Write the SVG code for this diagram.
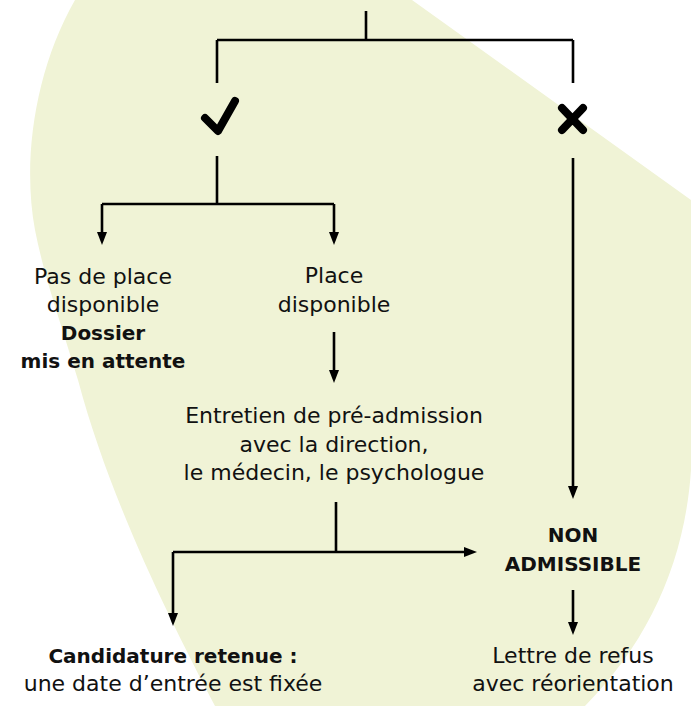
<svg xmlns="http://www.w3.org/2000/svg" width="691" height="706" viewBox="0 0 691 706">
<defs>
<style>
.ln{fill:none;stroke:#000;stroke-width:2.6}
.sym{fill:none;stroke:#000;stroke-width:8;stroke-linecap:round;stroke-linejoin:round}
.t{font-family:"DejaVu Sans","Noto Sans",sans-serif;font-size:22px;fill:#111;text-anchor:middle}
.b{font-weight:bold;font-size:20px}
</style>
<marker id="ah" markerUnits="userSpaceOnUse" markerWidth="14" markerHeight="12" viewBox="0 -6 14 12" refX="1" refY="0" orient="auto">
<path d="M0,-5 L13,0 L0,5 z" fill="#000"/>
</marker>
</defs>
<path id="blob" d="M75,0 L412,0 L691,200 L691,470 C685,560 650,640 585,706 L215,706 C170,620 110,500 78,380 C60,320 45,280 35,230 C22,160 35,70 75,0 Z" fill="#f0f3d6"/>
<g id="connectors">
<path class="ln" d="M366,11 V40 M217,40 H573 M217,40 V83 M573,40 V83"/>
<path class="ln" d="M217,156 V204 M102,204 H334"/>
<path class="ln" d="M102,204 V233" marker-end="url(#ah)"/>
<path class="ln" d="M334,204 V233" marker-end="url(#ah)"/>
<path class="ln" d="M573,158 V487" marker-end="url(#ah)"/>
<path class="ln" d="M334,332 V371" marker-end="url(#ah)"/>
<path class="ln" d="M336,502 V552 M173,552 H465" marker-end="url(#ah)"/>
<path class="ln" d="M173,552 V614" marker-end="url(#ah)"/>
<path class="ln" d="M573,590 V623" marker-end="url(#ah)"/>
</g>
<g id="check"><path class="sym" d="M205,118 L218,131 L235,101"/></g>
<g id="cross"><path class="sym" d="M562,108 L583,130 M583,108 L562,130"/></g>
<g id="no-place">
<text class="t" x="103" y="284">Pas de place</text>
<text class="t" x="103" y="312">disponible</text>
<text class="t b" x="103" y="340">Dossier</text>
<text class="t b" x="103" y="368">mis en attente</text>
</g>
<g id="place">
<text class="t" x="334" y="283">Place</text>
<text class="t" x="334" y="312">disponible</text>
</g>
<g id="interview">
<text class="t" x="334" y="423">Entretien de pré-admission</text>
<text class="t" x="334" y="452">avec la direction,</text>
<text class="t" x="334" y="480">le médecin, le psychologue</text>
</g>
<g id="non-admissible">
<text class="t b" x="573" y="542">NON</text>
<text class="t b" x="573" y="571">ADMISSIBLE</text>
</g>
<g id="accepted">
<text class="t b" x="173" y="663">Candidature retenue :</text>
<text class="t" x="173" y="691">une date d’entrée est fixée</text>
</g>
<g id="refusal">
<text class="t" x="573" y="663">Lettre de refus</text>
<text class="t" x="573" y="691">avec réorientation</text>
</g>
</svg>
